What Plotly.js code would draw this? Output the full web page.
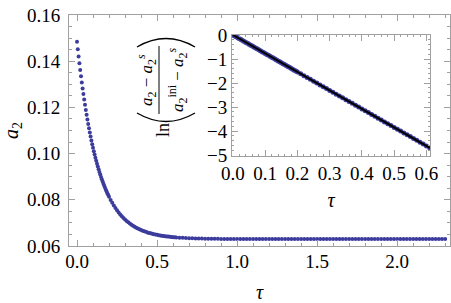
<!DOCTYPE html>
<html>
<head>
<meta charset="utf-8">
<script src="https://cdn.plot.ly/plotly-3.0.1.min.js"></script>
<style>
  body { margin: 0; background: #fff; }
  #chart { width: 451px; height: 303px; }
</style>
</head>
<body>
<div id="chart"></div>
<script>
// tau grid of the simulation (dense where a2 falls fast)
const tau = [
  0, 0.005, 0.01, 0.015, 0.02, 0.025, 0.03, 0.035, 0.04, 0.045,
  0.05, 0.055, 0.06, 0.065, 0.07, 0.075, 0.08, 0.085, 0.09, 0.095,
  0.1, 0.105, 0.11, 0.115, 0.12, 0.125, 0.13, 0.135, 0.14, 0.145,
  0.15, 0.155, 0.16, 0.165, 0.17, 0.175, 0.18, 0.185, 0.19, 0.195, 0.2,
  0.21, 0.22, 0.23, 0.24, 0.25, 0.26, 0.27, 0.28, 0.29, 0.3,
  0.31, 0.32, 0.33, 0.34, 0.35, 0.36, 0.37, 0.38, 0.39, 0.4,
  0.41, 0.42, 0.43, 0.44, 0.45, 0.46, 0.47, 0.48, 0.49, 0.5,
  0.51, 0.52, 0.53, 0.54, 0.55, 0.56, 0.57, 0.58, 0.59, 0.6, 0.61, 0.62,
  0.64, 0.66, 0.68, 0.7, 0.72, 0.74, 0.76, 0.78, 0.8, 0.82,
  0.84, 0.86, 0.88, 0.9, 0.92, 0.94, 0.96, 0.98, 1.0, 1.02,
  1.04, 1.06, 1.08, 1.1, 1.12, 1.14, 1.16, 1.18, 1.2, 1.22,
  1.24, 1.26, 1.28, 1.3, 1.32, 1.34, 1.36, 1.38, 1.4, 1.42,
  1.44, 1.46, 1.48, 1.5, 1.52, 1.54, 1.56, 1.58, 1.6, 1.62,
  1.64, 1.66, 1.68, 1.7, 1.72, 1.74, 1.76, 1.78, 1.8, 1.82,
  1.84, 1.86, 1.88, 1.9, 1.92, 1.94, 1.96, 1.98, 2.0, 2.02,
  2.04, 2.06, 2.08, 2.1, 2.12, 2.14, 2.16, 2.18, 2.2, 2.22,
  2.24, 2.26, 2.28, 2.3
];

const a2 = [
  0.14840, 0.14518, 0.14207, 0.13908, 0.13621, 0.13345, 0.13079, 0.12823, 0.12576, 0.12339,
  0.12111, 0.11892, 0.11680, 0.11477, 0.11282, 0.11094, 0.10912, 0.10738, 0.10571, 0.10409,
  0.10254, 0.10105, 0.09961, 0.09823, 0.09690, 0.09562, 0.09439, 0.09320, 0.09206, 0.09096,
  0.08991, 0.08889, 0.08791, 0.08697, 0.08607, 0.08519, 0.08436, 0.08355, 0.08277, 0.08203, 0.08131,
  0.07995, 0.07870, 0.07753, 0.07646, 0.07546, 0.07454, 0.07368, 0.07289, 0.07216, 0.07148,
  0.07085, 0.07027, 0.06973, 0.06923, 0.06877, 0.06834, 0.06795, 0.06758, 0.06724, 0.06693,
  0.06663, 0.06637, 0.06612, 0.06589, 0.06567, 0.06547, 0.06529, 0.06512, 0.06496, 0.06482,
  0.06468, 0.06456, 0.06444, 0.06434, 0.06424, 0.06415, 0.06406, 0.06398, 0.06391, 0.06384, 0.06378, 0.06372,
  0.06362, 0.06353, 0.06346, 0.06339, 0.06333, 0.06329, 0.06325, 0.06321, 0.06318, 0.06316,
  0.06313, 0.06311, 0.06310, 0.06308, 0.06307, 0.06306, 0.06305, 0.06304, 0.06304, 0.06303,
  0.06303, 0.06302, 0.06302, 0.06302, 0.06301, 0.06301, 0.06301, 0.06301, 0.06301, 0.06301,
  0.06300, 0.06300, 0.06300, 0.06300, 0.06300, 0.06300, 0.06300, 0.06300, 0.06300, 0.06300,
  0.06300, 0.06300, 0.06300, 0.06300, 0.06300, 0.06300, 0.06300, 0.06300, 0.06300, 0.06300,
  0.06300, 0.06300, 0.06300, 0.06300, 0.06300, 0.06300, 0.06300, 0.06300, 0.06300, 0.06300,
  0.06300, 0.06300, 0.06300, 0.06300, 0.06300, 0.06300, 0.06300, 0.06300, 0.06300, 0.06300,
  0.06300, 0.06300, 0.06300, 0.06300, 0.06300, 0.06300, 0.06300, 0.06300, 0.06300, 0.06300,
  0.06300, 0.06300, 0.06300, 0.06300
];

const a2Steady = 0.063;       // a2^s
const insetTauMax = 0.61;     // inset only shows the early decay
const fitTau = [0, 0.61];     // straight-line fit drawn over the inset
const fitLn = [0, -4.70];

const blue = '#3c3c9c';
const frameGray = '#a0a0a0';
const serif = 'Liberation Serif';

// inset: ln((a2 - a2s) / (a2ini - a2s)) from the same run
const insetTau = tau.filter(t => t <= insetTauMax + 1e-9);
const insetLn = insetTau.map((t, i) => Math.log((a2[i] - a2Steady) / (a2[0] - a2Steady)));

// pixel -> paper helpers for the inset label pieces (plot box is 69..450 x 15..246)
const px = x => (x - 69) / 381;
const py = y => (246 - y) / 231;

function frameAxis(extra) {
  return Object.assign({
    showline: true, linecolor: frameGray, linewidth: 1, mirror: 'ticks',
    ticks: 'inside', ticklen: 6, tickwidth: 1, tickcolor: frameGray,
    showgrid: false, zeroline: false,
    tickfont: { family: serif, size: 19, color: '#000' },
  }, extra);
}

const labelFont = { family: serif, size: 17, color: '#000' };

// rotated piece of the inset's y label
function rotLabel(text, x, y, font) {
  return {
    text: text, x: px(x), y: py(y), xref: 'paper', yref: 'paper',
    xanchor: 'center', yanchor: 'middle', showarrow: false,
    textangle: -90, font: font || labelFont,
  };
}

const traces = [
  {
    x: tau, y: a2, type: 'scatter', mode: 'markers',
    marker: { color: blue, size: 4 },
    xaxis: 'x', yaxis: 'y', hoverinfo: 'skip',
  },
  {
    x: insetTau, y: insetLn, type: 'scatter', mode: 'markers',
    marker: { color: blue, size: 5 },
    xaxis: 'x2', yaxis: 'y2', hoverinfo: 'skip',
  },
  {
    x: fitTau, y: fitLn, type: 'scatter', mode: 'lines',
    line: { color: '#000', width: 2 },
    xaxis: 'x2', yaxis: 'y2', hoverinfo: 'skip',
  },
];

const layout = {
  width: 451, height: 303,
  margin: { l: 69, r: 1, t: 15, b: 57 },
  paper_bgcolor: '#fff', plot_bgcolor: '#fff',
  showlegend: false,
  font: { family: serif, color: '#000' },
  xaxis: frameAxis({
    range: [-0.05, 2.33], tick0: 0, dtick: 0.5, tickformat: '.1f',
    ticklabelstandoff: -2,
    minor: { dtick: 0.1, ticks: 'inside', ticklen: 3, tickcolor: frameGray },
    title: { text: '<i>τ</i>', font: { family: serif, size: 20 }, standoff: 23 },
  }),
  yaxis: frameAxis({
    range: [0.06, 0.16], dtick: 0.02, tickformat: '.2f',
    ticklabelstandoff: 4,
    minor: { dtick: 0.005, ticks: 'inside', ticklen: 3, tickcolor: frameGray },
    title: { text: '<i>a</i><sub>2</sub>', font: { family: serif, size: 20 }, standoff: 5 },
  }),
  xaxis2: frameAxis({
    anchor: 'y2',
    domain: [px(232), px(430)],
    range: [-0.003, 0.611], tick0: 0, dtick: 0.1, tickformat: '.1f',
    minor: { dtick: 0.02, ticks: 'inside', ticklen: 2, tickcolor: frameGray },
    title: { text: '<i>τ</i>', font: { family: serif, size: 20 }, standoff: 10 },
  }),
  yaxis2: frameAxis({
    anchor: 'x2',
    domain: [py(156), py(35)],
    range: [-5.04, 0.0], dtick: 1,
    minor: { dtick: 0.2, ticks: 'inside', ticklen: 2, tickcolor: frameGray },
  }),
  annotations: [
    rotLabel('ln', 163, 130, { family: serif, size: 18, color: '#000' }),
    rotLabel('<i>a</i><sub>2</sub> − <i>a</i><sub>2</sub><sup><i>s</i></sup>', 146, 80),
    rotLabel('<i>a</i><sub>2</sub><sup>ini</sup> − <i>a</i><sub>2</sub><sup><i>s</i></sup>', 177, 80),
  ],
  shapes: [
    // fraction bar
    { type: 'line', xref: 'paper', yref: 'paper', x0: px(159), x1: px(159), y0: py(46), y1: py(114),
      line: { color: '#000', width: 1 } },
    // big parentheses around the fraction
    { type: 'path', xref: 'paper', yref: 'paper',
      path: `M ${px(137)},${py(47)} Q ${px(166)},${py(30)} ${px(195)},${py(47)}`,
      line: { color: '#000', width: 1.3 } },
    { type: 'path', xref: 'paper', yref: 'paper',
      path: `M ${px(137)},${py(113)} Q ${px(166)},${py(130)} ${px(195)},${py(113)}`,
      line: { color: '#000', width: 1.3 } },
  ],
};

Plotly.newPlot('chart', traces, layout, { displayModeBar: false, staticPlot: true });
</script>
</body>
</html>
